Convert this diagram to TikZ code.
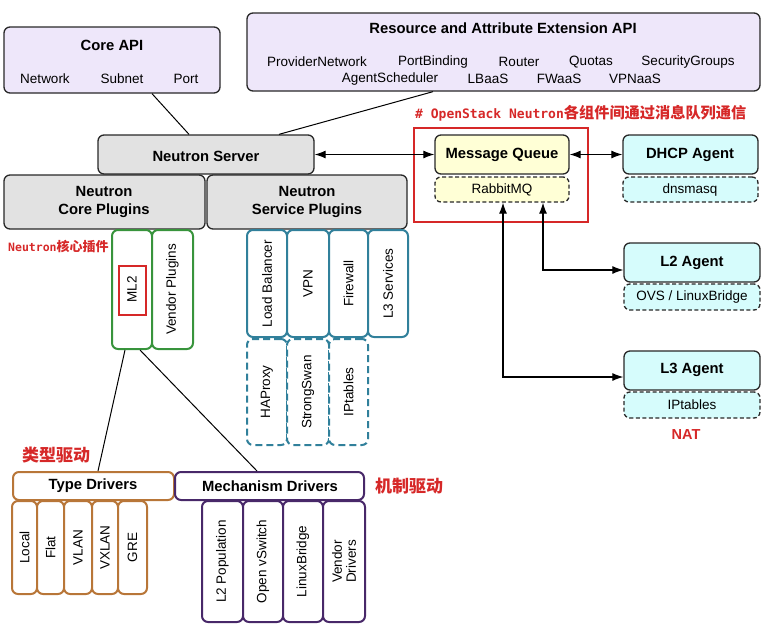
\documentclass[tikz,border=0pt]{standalone}
\usepackage{fontspec}
\setmainfont{Liberation Sans}
\newfontfamily\cjk{Noto Sans CJK SC}
\newfontfamily\mono{DejaVu Sans Mono}
\usetikzlibrary{arrows.meta,fit}
\definecolor{lav}{RGB}{238,231,250}
\definecolor{grayf}{RGB}{226,226,226}
\definecolor{yel}{RGB}{255,255,214}
\definecolor{cyanf}{RGB}{214,252,252}
\definecolor{grn}{RGB}{56,148,60}
\definecolor{blu}{RGB}{49,128,155}
\definecolor{org}{RGB}{184,118,56}
\definecolor{pur}{RGB}{72,40,105}
\definecolor{redc}{RGB}{214,40,40}
\definecolor{edge}{RGB}{40,40,40}
\tikzset{
  bx/.style={draw=edge, line width=1.3pt, rounded corners=6pt, inner sep=0pt},
  dbx/.style={bx, dashed, dash pattern=on 4pt off 2.5pt},
  col/.style={draw=#1, line width=2pt, rounded corners=6pt, inner sep=0pt, fill=white},
  dcol/.style={col=#1, dash pattern=on 7pt off 4pt},
  txt/.style={inner sep=0pt, font=\fontsize{13.5}{15}\selectfont},
  ttl/.style={inner sep=0pt, font=\fontsize{14.8}{18}\selectfont\bfseries, align=center},
  vtxt/.style={txt, rotate=90, align=center},
  redl/.style={inner sep=0pt, text=redc, font=\fontsize{13}{15}\selectfont\bfseries},
  arr/.style={line width=1.1pt, {Latex[length=11pt,width=8pt]}-{Latex[length=11pt,width=8pt]}},
  ln/.style={line width=1pt}
}
\begin{document}
\begin{tikzpicture}[x=1pt,y=-1pt]
\useasboundingbox (0,0) rectangle (765,627);
% top API boxes
\node[bx, fill=lav, fit={(4,27)(220,93)}] (coreapi) {};
\node[ttl] at (112,45) {Core API};
\node[txt] at (45,79) {Network};
\node[txt] at (122,79) {Subnet};
\node[txt] at (186,79) {Port};
\node[bx, fill=lav, fit={(247,13)(760,91)}] (resapi) {};
\node[ttl] at (503,28) {Resource and Attribute Extension API};
\node[txt] at (317,62) {ProviderNetwork};
\node[txt] at (433,62) {PortBinding};
\node[txt] at (519,62) {Router};
\node[txt] at (591,62) {Quotas};
\node[txt] at (688,62) {SecurityGroups};
\node[txt] at (390,79) {AgentScheduler};
\node[txt] at (488,79) {LBaaS};
\node[txt] at (559,79) {FWaaS};
\node[txt] at (635,79) {VPNaaS};
% server & plugins
\node[bx, fill=grayf, fit={(98,135)(314,174)}] (ns) {};
\node[ttl] at (206,156) {Neutron Server};
\node[bx, fill=grayf, fit={(4,175)(205,229)}] (ncp) {};
\node[ttl] at (104,202) {Neutron\\Core Plugins};
\node[bx, fill=grayf, fit={(207,175)(407,229)}] (nsp) {};
\node[ttl] at (307,202) {Neutron\\Service Plugins};
\draw[ln] (coreapi.south -| 152,0) -- (ns.north -| 189,0);
\draw[ln] (resapi.south -| 433,0) -- (ns.north -| 279,0);
% message queue and agents
\node[redl, anchor=west] at (415,113) {{\mono\bfseries\fontsize{13}{15}\selectfont \# OpenStack Neutron}{\cjk\bfseries\fontsize{15.2}{17}\selectfont 各组件间通过消息队列通信}};
\node[bx, fill=yel, fit={(435,135)(569,174)}] (mq) {};
\node[ttl] at (502,155) {Message Queue};
\node[dbx, fill=yel, fit={(435,177)(569,202)}] (rmq) {};
\node[txt] at (502,190) {RabbitMQ};
\draw[draw=redc, line width=2.6pt] (414,128) rectangle (588,222);
\node[bx, fill=cyanf, fit={(623,135)(758,174)}] (dhcp) {};
\node[ttl] at (690,155) {DHCP Agent};
\node[dbx, fill=cyanf, fit={(623,177)(758,202)}] (dns) {};
\node[txt] at (690,190) {dnsmasq};
\node[bx, fill=cyanf, fit={(624,243)(760,282)}] (l2) {};
\node[ttl] at (692,263) {L2 Agent};
\node[dbx, fill=cyanf, fit={(624,284)(760,310)}] (ovs) {};
\node[txt] at (692,297) {OVS / LinuxBridge};
\node[bx, fill=cyanf, fit={(624,351)(760,390)}] (l3) {};
\node[ttl] at (692,370) {L3 Agent};
\node[dbx, fill=cyanf, fit={(624,392)(760,418)}] (ipt) {};
\node[txt] at (692,405) {IPtables};
\node[redl, font=\fontsize{14.5}{16}\selectfont\bfseries] at (686,435) {NAT};
\draw[arr] (ns.east) -- (mq.west);
\draw[arr] (mq.east) -- (dhcp.west);
\draw[arr] (rmq.south -| 543,0) |- (l2.west |- 0,270);
\draw[arr] (rmq.south -| 503,0) |- (l3.west |- 0,377);
% core plugins columns
\node[redl, anchor=west] at (8,246) {{\mono\bfseries\fontsize{11.5}{13}\selectfont Neutron}{\cjk\bfseries\fontsize{13}{15}\selectfont 核心插件}};
\node[col=grn, fit={(112,230)(152,349)}] (ml2) {};
\node[col=grn, fit={(152,230)(193,349)}] (vp) {};
\draw[draw=redc, line width=2.4pt] (119,266) rectangle (146,315);
\node[vtxt] at (ml2) {ML2};
\node[vtxt] at (vp) {Vendor Plugins};
% service plugin columns
\node[col=blu, fit={(247,230)(287,337)}] (lb) {};
\node[col=blu, fit={(287,230)(329,337)}] (vpn) {};
\node[col=blu, fit={(329,230)(368,337)}] (fw) {};
\node[col=blu, fit={(368,230)(408,337)}] (l3s) {};
\node[vtxt] at (lb) {Load Balancer};
\node[vtxt] at (vpn) {VPN};
\node[vtxt] at (fw) {Firewall};
\node[vtxt] at (l3s) {L3 Services};
\node[dcol=blu, fit={(247,339)(287,445)}] (hap) {};
\node[dcol=blu, fit={(287,339)(329,445)}] (ss) {};
\node[dcol=blu, fit={(329,339)(368,445)}] (iptb) {};
\node[vtxt] at (hap) {HAProxy};
\node[vtxt] at (ss) {StrongSwan};
\node[vtxt] at (iptb) {IPtables};
% drivers
\node[redl, font=\fontsize{17}{19}\selectfont\cjk\bfseries] at (56,455) {类型驱动};
\node[redl, font=\fontsize{17}{19}\selectfont\cjk\bfseries] at (409,486) {机制驱动};
\node[col=org, fit={(13,472)(174,500)}] (td) {};
\node[ttl] at (93,486) {Type Drivers};
\node[col=pur, fit={(175,472)(364,500)}] (md) {};
\node[ttl] at (270,486) {Mechanism Drivers};
\draw[ln] (ml2.south -| 125,0) -- (td.north -| 98,0);
\draw[ln] (ml2.south -| 140,0) -- (md.north -| 257,0);
\node[col=org, fit={(12,501)(37,594)}] (loc) {};
\node[col=org, fit={(37,501)(64,594)}] (flat) {};
\node[col=org, fit={(64,501)(92,594)}] (vlan) {};
\node[col=org, fit={(92,501)(118,594)}] (vxlan) {};
\node[col=org, fit={(118,501)(147,594)}] (gre) {};
\node[vtxt] at (loc) {Local};
\node[vtxt] at (flat) {Flat};
\node[vtxt] at (vlan) {VLAN};
\node[vtxt] at (vxlan) {VXLAN};
\node[vtxt] at (gre) {GRE};
\node[col=pur, fit={(202,501)(243,622)}] (l2p) {};
\node[col=pur, fit={(243,501)(283,622)}] (ovsw) {};
\node[col=pur, fit={(283,501)(323,622)}] (lbr) {};
\node[col=pur, fit={(323,501)(365,622)}] (vd) {};
\node[vtxt] at (l2p) {L2 Population};
\node[vtxt] at (ovsw) {Open vSwitch};
\node[vtxt] at (lbr) {LinuxBridge};
\node[vtxt, font=\fontsize{13.5}{14}\selectfont] at (vd) {Vendor\\Drivers};
\end{tikzpicture}
\end{document}
